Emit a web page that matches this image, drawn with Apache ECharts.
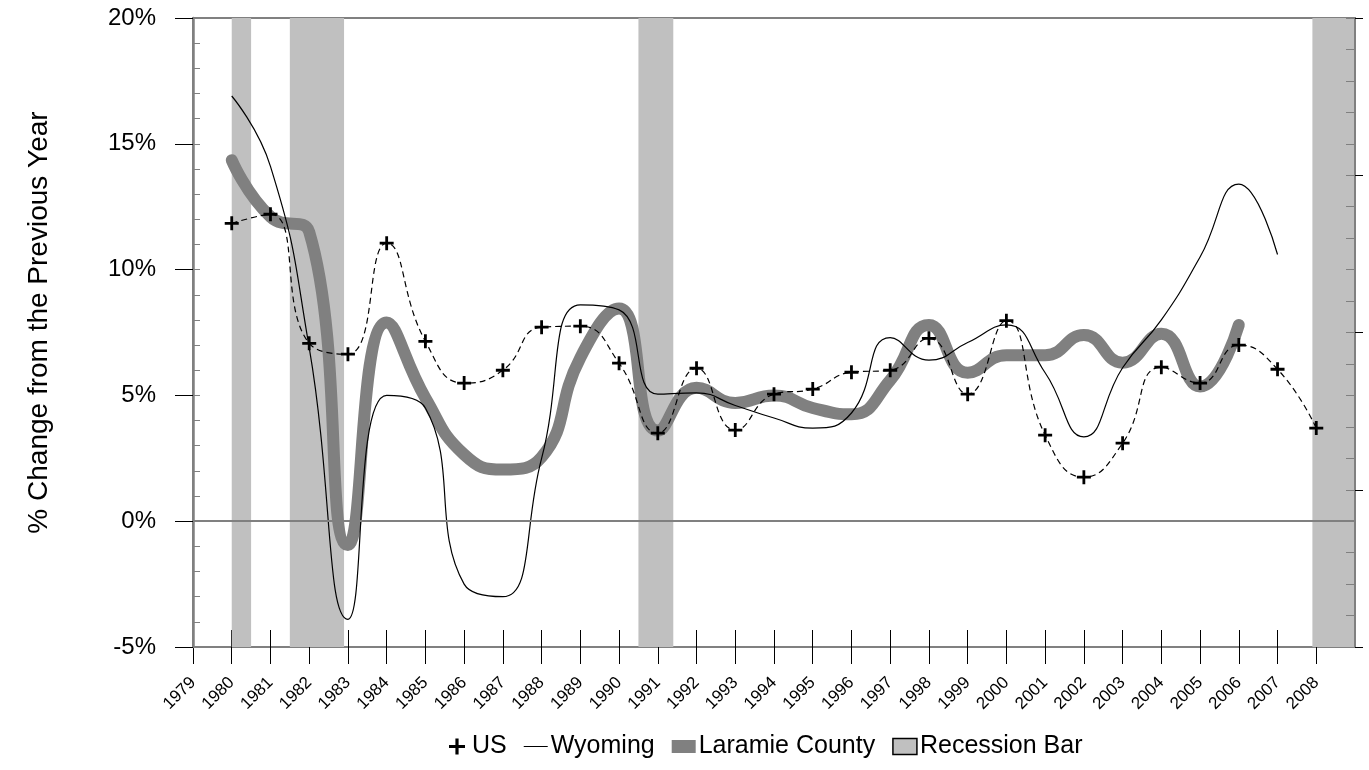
<!DOCTYPE html>
<html>
<head>
<meta charset="utf-8">
<script src="https://cdn.jsdelivr.net/npm/echarts@6/dist/echarts.min.js"></script>
<style>
  html, body { margin: 0; padding: 0; background: #fff; }
  #main { width: 1369px; height: 770px; }
</style>
</head>
<body>
<div id="main"></div>
<script>
// years 1980-2008
const years = [1980, 1981, 1982, 1983, 1984, 1985, 1986, 1987, 1988, 1989, 1990, 1991, 1992, 1993, 1994,
  1995, 1996, 1997, 1998, 1999, 2000, 2001, 2002, 2003, 2004, 2005, 2006, 2007, 2008]
const us = [11.84, 12.2, 7.07, 6.64, 11.05, 7.15, 5.49, 6.0, 7.71, 7.75, 6.28, 3.5, 6.08, 3.62, 5.05,
  5.25, 5.92, 6.0, 7.27, 5.05, 7.97, 3.42, 1.75, 3.1, 6.12, 5.49, 7.0, 6.04, 3.7]
// 1980-2007
const wyoming = [16.9, 14.1, 6.9, -3.9, 5.0, 4.5, -2.5, -3.0, 2.5, 8.6, 8.4, 5.05, 5.1, 4.6, 4.1,
  3.7, 4.3, 7.3, 6.4, 7.1, 7.8, 5.9, 3.35, 6.1, 8.0, 10.5, 13.4, 10.6]
// 1980-2006
const laramie = [14.35, 12.1, 11.5, -0.95, 7.9, 4.9, 2.65, 2.05, 2.55, 6.5, 8.45, 3.6, 5.3, 4.7, 5.0,
  4.5, 4.25, 5.6, 7.8, 5.9, 6.6, 6.6, 7.4, 6.3, 7.45, 5.35, 7.8]
const recessions = [[1980, 1980.5], [1981.5, 1982.9], [1990.5, 1991.4], [2007.9, 2009]]
const xTicks = [1979].concat(years)
const yTicks = [-5, 0, 5, 10, 15, 20]

const FONT = "'Liberation Sans', Arial, sans-serif"
const GRAY = '#808080'
const pairs = vals => vals.map((v, i) => [years[i], v])
const plus = 'path://M6,0h3v6h6v3h-6v6h-3v-6h-6v-3h6z'

const chart = echarts.init(document.getElementById('main'))
chart.setOption({
  animation: false,
  grid: {
    left: 193, right: 14, top: 18, bottom: 123,
    show: true, borderColor: GRAY, borderWidth: 2,
    outerBoundsMode: 'none'
  },
  legend: {
    left: 444,
    top: 729,
    itemWidth: 24,
    itemHeight: 16,
    itemGap: 17,
    selectedMode: false,
    textStyle: { fontFamily: FONT, fontSize: 25, color: '#000', padding: [0, 0, 0, -2] },
    data: [
      { name: 'US', icon: plus, itemStyle: { color: '#000' } },
      { name: 'Wyoming', icon: 'path://M0,0h24v1h-24z', itemStyle: { color: '#000' } },
      { name: 'Laramie County', icon: 'path://M0,0h24v13h-24z', itemStyle: { color: GRAY } },
      { name: 'Recession Bar', icon: 'rect', itemStyle: { color: '#c0c0c0', borderColor: '#000', borderWidth: 1.5 } }
    ]
  },
  xAxis: [
    {
      type: 'value', min: 1979, max: 2009, interval: 1,
      axisLine: { show: true, onZero: false, lineStyle: { color: GRAY, width: 2 } },
      axisTick: { show: true, length: 17, customValues: xTicks, lineStyle: { color: '#000', width: 1 } },
      axisLabel: {
        rotate: 45, margin: 33, fontFamily: FONT, fontSize: 17, color: '#000',
        customValues: xTicks,
        formatter: v => String(v)
      },
      splitLine: { show: false }
    },
    {
      type: 'value', min: 1979, max: 2009, interval: 1, position: 'bottom',
      axisLine: { show: false, onZero: false },
      axisTick: { show: true, inside: true, length: 17, customValues: xTicks, lineStyle: { color: '#000', width: 1 } },
      axisLabel: { show: false },
      splitLine: { show: false }
    }
  ],
  yAxis: [
    {
      type: 'value', min: yTicks[0], max: yTicks[yTicks.length - 1], interval: 5,
      name: '% Change from the Previous Year',
      nameLocation: 'middle',
      nameGap: 140,
      nameTextStyle: { fontFamily: FONT, fontSize: 28, color: '#000', padding: [0, 0, 0, 20] },
      axisLine: { show: true, onZero: false, lineStyle: { color: GRAY, width: 2.5 } },
      axisTick: { show: true, length: 18, lineStyle: { color: '#000', width: 1 } },
      axisLabel: { margin: 37, fontFamily: FONT, fontSize: 24, color: '#000', formatter: '{value}%' },
      splitLine: { show: false },
      z: 10
    },
    {
      type: 'value', min: -5, max: 20, interval: 1, position: 'left',
      axisLine: { show: false, onZero: false },
      axisTick: { show: true, inside: true, length: 7, lineStyle: { color: GRAY, width: 1 } },
      axisLabel: { show: false },
      splitLine: { show: false },
      z: 10
    },
    {
      type: 'value', min: 0, max: 20, interval: 5, position: 'right',
      axisLine: { show: true, onZero: false, lineStyle: { color: GRAY, width: 2 } },
      axisTick: { show: true, length: 8, lineStyle: { color: '#000', width: 1 } },
      axisLabel: { show: false },
      splitLine: { show: false },
      z: 10
    },
    {
      type: 'value', min: 0, max: 20, interval: 1, position: 'right',
      axisLine: { show: false, onZero: false },
      axisTick: { show: true, inside: true, length: 9, lineStyle: { color: GRAY, width: 1 } },
      axisLabel: { show: false },
      splitLine: { show: false },
      z: 10
    }
  ],
  series: [
    {
      name: 'Recession Bar',
      type: 'line',
      data: [],
      z: 1,
      itemStyle: { color: '#c0c0c0' },
      markArea: {
        silent: true,
        itemStyle: { color: '#c0c0c0', opacity: 1 },
        data: recessions.map(r => [{ xAxis: r[0] }, { xAxis: r[1] }])
      }
    },
    {
      name: 'zero',
      type: 'line',
      data: [],
      z: 2,
      markLine: {
        silent: true,
        symbol: 'none',
        label: { show: false },
        lineStyle: { color: GRAY, width: 2, type: 'solid' },
        data: [{ yAxis: 0 }]
      }
    },
    {
      name: 'Laramie County',
      type: 'line',
      data: pairs(laramie),
      smooth: true,
      symbol: 'none',
      z: 3,
      itemStyle: { color: GRAY },
      lineStyle: { color: GRAY, width: 12, cap: 'round', join: 'round' }
    },
    {
      name: 'Wyoming',
      type: 'line',
      data: pairs(wyoming),
      smooth: true,
      symbol: 'none',
      z: 4,
      itemStyle: { color: '#000' },
      lineStyle: { color: '#000', width: 1.2 }
    },
    {
      name: 'US',
      type: 'line',
      data: pairs(us),
      smooth: true,
      symbol: plus,
      symbolSize: 14,
      z: 5,
      itemStyle: { color: '#000' },
      lineStyle: { color: '#000', width: 1.2, type: [6, 4] }
    }
  ]
})
</script>
</body>
</html>
